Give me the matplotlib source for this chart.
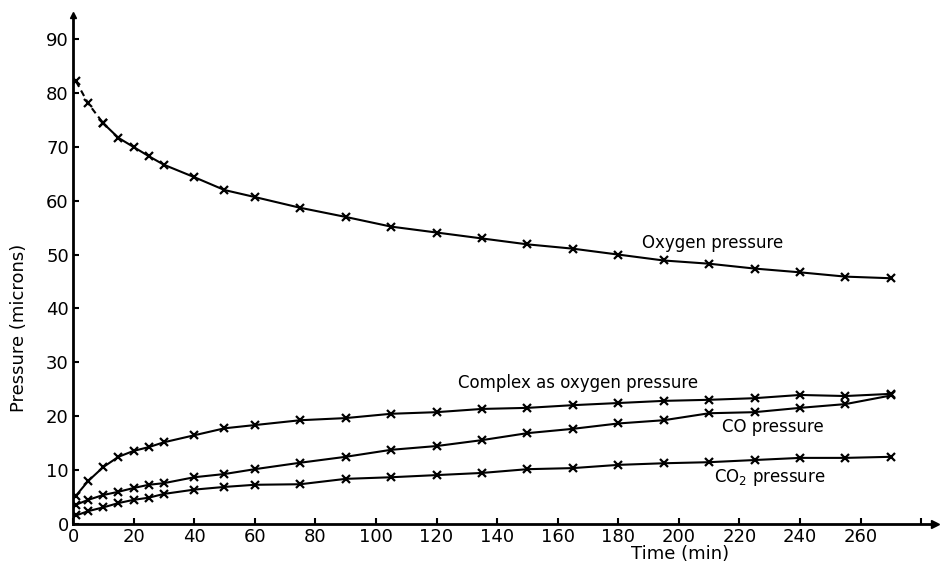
import matplotlib
matplotlib.use("Agg")
import matplotlib.pyplot as plt

# time points (min)
t_main = [1, 5, 10, 15, 20, 25, 30, 40, 50, 60, 75, 90, 105, 120, 135, 150,
          165, 180, 195, 210, 225, 240, 255, 270]

oxygen = [82.2, 78.1, 74.4, 71.7, 70.0, 68.3, 66.7, 64.4, 62.0, 60.7, 58.7, 57.0,
          55.2, 54.1, 53.0, 51.9, 51.1, 50.0, 48.9, 48.3, 47.4, 46.7, 45.9, 45.6]
complex_o2 = [5.2, 7.9, 10.5, 12.4, 13.5, 14.2, 15.1, 16.4, 17.7, 18.3, 19.2, 19.6,
              20.4, 20.7, 21.3, 21.5, 22.0, 22.4, 22.8, 23.0, 23.3, 23.9, 23.7, 24.1]
co = [3.5, 4.4, 5.3, 5.9, 6.6, 7.2, 7.5, 8.6, 9.2, 10.1, 11.3, 12.4,
      13.7, 14.4, 15.5, 16.8, 17.6, 18.6, 19.2, 20.5, 20.7, 21.5, 22.2, 23.8]
co2 = [1.5, 2.3, 3.0, 3.8, 4.4, 4.8, 5.5, 6.3, 6.8, 7.2, 7.3, 8.3,
       8.6, 9.0, 9.4, 10.1, 10.3, 10.9, 11.2, 11.4, 11.8, 12.2, 12.2, 12.4]

x_ticks = list(range(0, 281, 20))
x_labels = [str(v) if v <= 260 else "" for v in x_ticks]
y_ticks = list(range(0, 91, 10))

fig = plt.figure(figsize=(9.41, 5.64), dpi=100)
ax = fig.add_axes([0.0776, 0.0718, 0.9158, 0.9012])

style = dict(color="black", lw=1.5, marker="x", ms=6, mew=1.6)
# first few oxygen segments look dashed in the original
ax.plot(t_main[:3], oxygen[:3], ls=(0, (3, 2)), **style)
ax.plot(t_main[2:], oxygen[2:], **style)
ax.plot(t_main, complex_o2, **style)
ax.plot(t_main, co, **style)
ax.plot(t_main, co2, **style)

ax.set_xlim(0, 284.5)
ax.set_ylim(0, 94.5)
ax.set_xticks(x_ticks)
ax.set_xticklabels(x_labels)
ax.set_yticks(y_ticks)
ax.tick_params(direction="in", length=4, width=1.5, labelsize=13, pad=3)

for side in ["top", "right"]:
    ax.spines[side].set_visible(False)
for side in ["left", "bottom"]:
    ax.spines[side].set_linewidth(2)

# arrow heads at the axis ends
ax.plot(1, 0, ">k", ms=6, transform=ax.transAxes, clip_on=False)
ax.plot(0, 1, "^k", ms=5, transform=ax.transAxes, clip_on=False)

ax.text(211, 52.1, "Oxygen pressure", fontsize=12, ha="center", va="center")
ax.text(166.7, 26.1, "Complex as oxygen pressure", fontsize=12, ha="center", va="center")
ax.text(231, 17.9, "CO pressure", fontsize=12, ha="center", va="center")
ax.text(230, 8.6, "CO$_2$ pressure", fontsize=12, ha="center", va="center")

ax.set_xlabel("Time (min)", fontsize=13)
ax.xaxis.set_label_coords(0.704, -0.042)
ax.set_ylabel("Pressure (microns)", fontsize=13)
ax.yaxis.set_label_coords(-0.052, 0.384)

plt.savefig("out.png", dpi=100)
